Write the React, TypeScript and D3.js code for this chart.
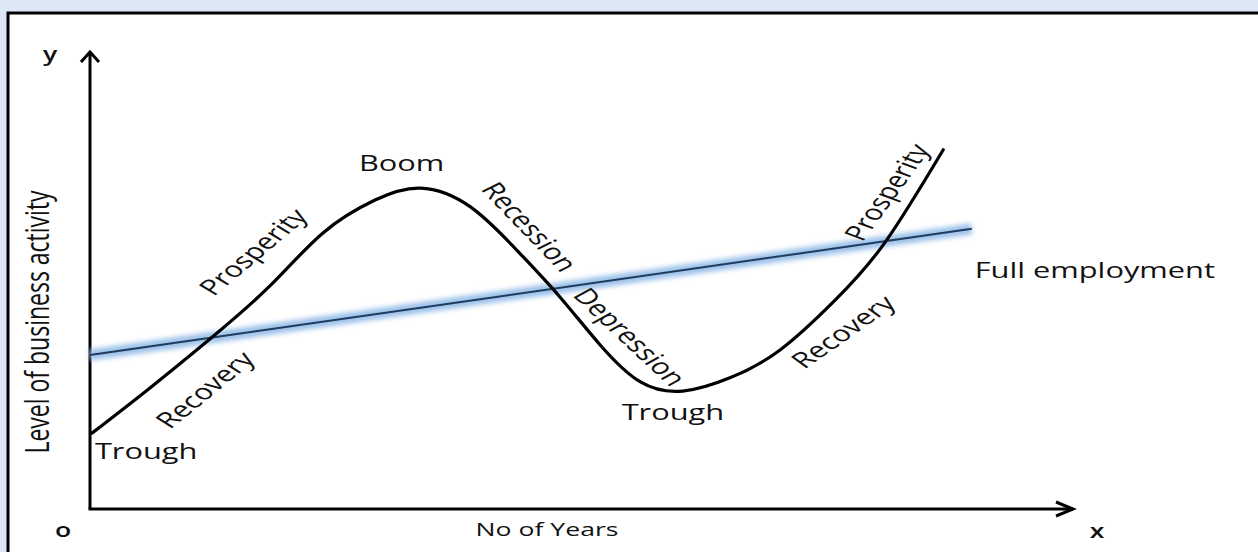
import React from 'react';
import * as d3 from 'd3';

// business cycle curve (years vs level of activity)
const years = [0.02, 0.61, 1.22, 1.83, 2.37, 2.9, 3.36, 3.87, 4.37, 4.78, 5.19, 5.6, 6.03, 6.51, 7.02, 7.58, 8.09, 8.68];
const activity = [1.66, 2.65, 3.72, 4.88, 6.04, 6.76, 7.02, 6.61, 5.6, 4.64, 3.59, 2.78, 2.58, 2.87, 3.48, 4.57, 5.84, 7.86];

// full employment trend line
const fullEmpYears = [0, 8.97];
const fullEmpLevel = [3.37, 6.13];

// phase labels along the curve (angles are as seen on screen)
const phaseNames = ['Trough', 'Recovery', 'Prosperity', 'Boom', 'Recession', 'Depression', 'Trough', 'Recovery', 'Prosperity'];
const phaseYears = [0.05, 1.19, 1.68, 3.17, 4.45, 5.47, 5.93, 7.68, 8.13];
const phaseLevels = [1.23, 2.58, 5.6, 7.53, 6.15, 3.74, 2.08, 3.85, 6.91];
const phaseAngles = [0, -39, -40, 0, 46, 43, 0, -35, -54];

// the source picture is stretched sideways, so is its lettering
const SX = 1.4;

export default function App() {
  const width = 1258;
  const height = 552;
  const origin = { x: 90, y: 509 };

  const x = d3.scaleLinear().domain([0, 10]).range([origin.x, origin.x + 983]);
  const y = d3.scaleLinear().domain([0, 10]).range([origin.y, origin.y - 457]);

  const cycle = years.map((t, i) => [t, activity[i]] as [number, number]);
  const line = d3.line<[number, number]>()
    .x(d => x(d[0]))
    .y(d => y(d[1]))
    .curve(d3.curveNatural);

  const fe = fullEmpYears.map((t, i) => [t, fullEmpLevel[i]] as [number, number]);
  const feLine = d3.line<[number, number]>().x(d => x(d[0])).y(d => y(d[1]));

  const font = '"Open Sans", sans-serif';
  const txt = '#111';

  const xEnd = x(10);
  const yEnd = y(10);

  // stretched text, rotation corrected so the on-screen angle is kept
  const label = (key: string | number, s: string, px: number, py: number, angle: number,
    size: number, anchor: string = 'middle', weight: number = 400) => {
    const a = Math.atan(Math.tan(angle * Math.PI / 180) * SX) * 180 / Math.PI;
    return (
      <text key={key} x={0} y={0} textAnchor={anchor} dominantBaseline='middle'
        transform={`translate(${px},${py}) scale(${SX},1) rotate(${a})`}
        fontFamily={font} fontSize={size} fontWeight={weight} fill={txt}>
        {s}
      </text>
    );
  };

  return (
    <svg width={width} height={height} style={{ position: 'absolute', left: 0, top: 0, display: 'block' }}>
      <defs>
        <filter id='glow' x='-10%' y='-200%' width='120%' height='500%'>
          <feGaussianBlur stdDeviation='2.5' />
        </filter>
      </defs>
      <rect x={0} y={0} width={width} height={height} fill='#dde8f5' />
      <rect x={8} y={13} width={width + 20} height={height + 20} fill='#fff' stroke='#000' strokeWidth={3} />

      {/* axes */}
      <line x1={origin.x} y1={origin.y} x2={origin.x} y2={yEnd} stroke='#000' strokeWidth={3} />
      <polyline points={`${origin.x - 9},${yEnd + 10} ${origin.x},${yEnd} ${origin.x + 9},${yEnd + 10}`} fill='none' stroke='#000' strokeWidth={3} />
      <line x1={origin.x - 1.5} y1={origin.y} x2={xEnd} y2={origin.y} stroke='#000' strokeWidth={3} />
      <polyline points={`${xEnd - 17},${origin.y - 7} ${xEnd},${origin.y} ${xEnd - 17},${origin.y + 7}`} fill='none' stroke='#000' strokeWidth={3} />

      {/* full employment line with glow */}
      <path d={feLine(fe) || ''} fill='none' stroke='#9cc1ea' strokeWidth={11} filter='url(#glow)' />
      <path d={feLine(fe) || ''} fill='none' stroke='#1f3c5e' strokeWidth={2} />

      {/* cycle */}
      <path d={line(cycle) || ''} fill='none' stroke='#000' strokeWidth={3.2} strokeLinecap='round' />

      {/* phase labels */}
      {phaseNames.map((name, i) =>
        label(i, name, x(phaseYears[i]), y(phaseLevels[i]), phaseAngles[i], 22, i === 0 ? 'start' : 'middle'))}

      {label('fe', 'Full employment', x(9.0), y(5.19), 0, 22, 'start')}

      {/* axis titles */}
      {label('xt', 'No of Years', 547, 531, 0, 19)}
      {label('yt', 'Level of business activity', 40, 322, -90, 23)}
      {label('y', 'y', 50, 56, 0, 19, 'middle', 600)}
      {label('o', 'o', 63, 532, 0, 19, 'middle', 600)}
      {label('x', 'x', 1097, 533, 0, 19, 'middle', 600)}
    </svg>
  );
}
